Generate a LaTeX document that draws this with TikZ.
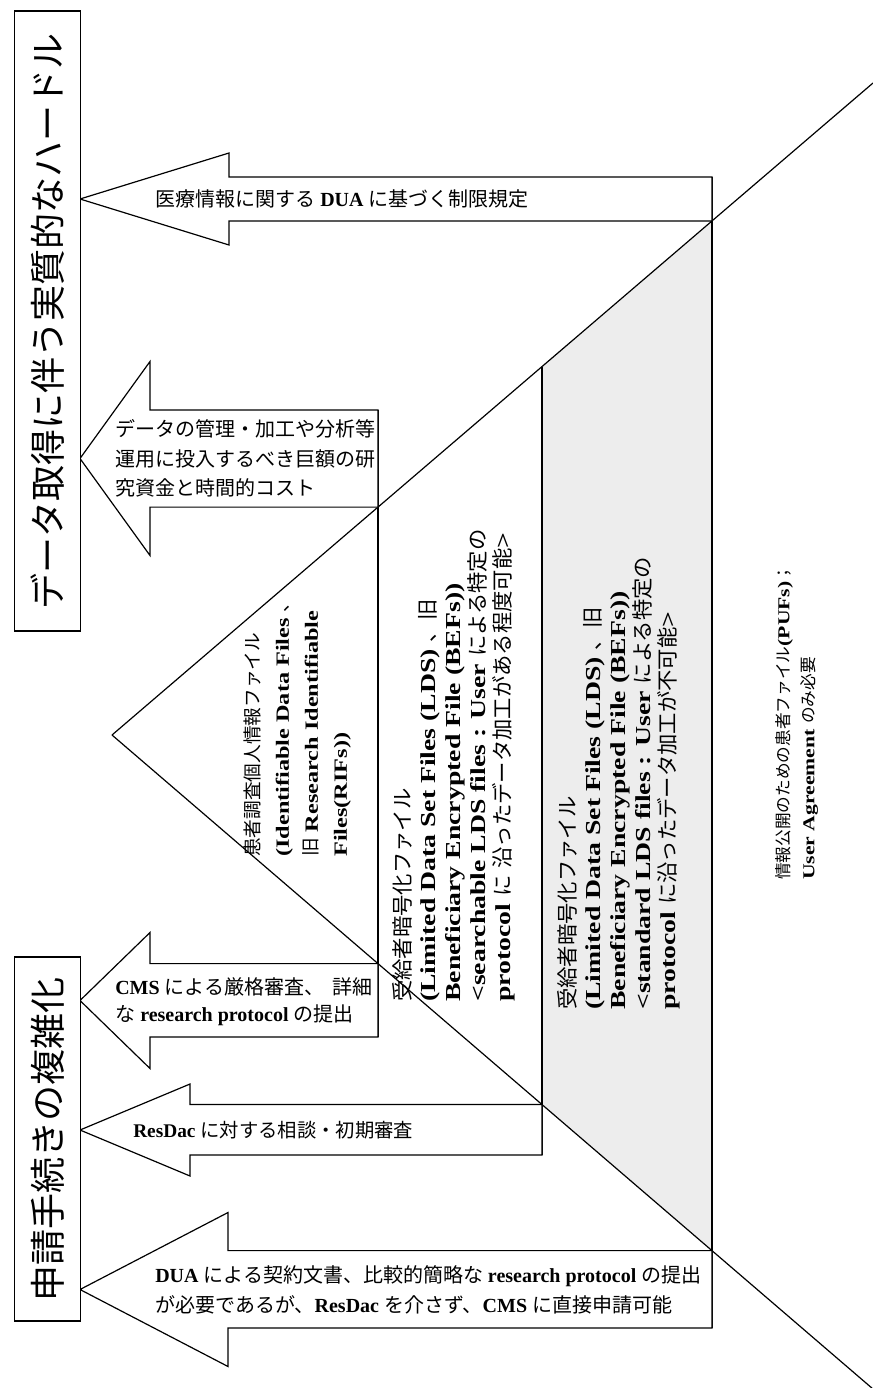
\documentclass[tikz,border=0pt]{standalone}
\usepackage{fontspec}
\setmainfont{Noto Sans CJK JP}
\newfontfamily\latfont{Liberation Serif}[UprightFont=*-Bold]
\newfontfamily\latwide{Liberation Serif}[UprightFont=*-Bold, FakeStretch=1.3]
\newcommand\LatA[1]{{\latfont #1}}
\newcommand\LatW[1]{{\latwide #1}}
\newcommand\BlockArrow[7]{%
  \draw[blockarrow] (#1,#2) -- (#3,#2-#4) -- (#3,#5) -- (#7,#5) -- (#7,#6) -- (#3,#6) -- (#3,#2+#4) -- cycle;}
\tikzset{
  outline/.style={draw=black, line width=0.9pt},
  blockarrow/.style={outline, fill=white, line join=miter},
  stdshade/.style={fill=black!7},
  titlebox/.style={outline, fill=white, rotate=90, inner sep=0pt, font=\fontsize{27pt}{32pt}\selectfont},
  arrowtext/.style={align=left, inner sep=0pt, anchor=west, font=\fontsize{15pt}{22pt}\selectfont},
  leveltext/.style={align=left, inner sep=0pt, rotate=90, anchor=north west}
}
\begin{document}
\begin{tikzpicture}[x=0.75pt,y=-0.75pt]
\useasboundingbox (0,0) rectangle (873,1388);
\fill[white] (0,0) rectangle (873,1388);

% pyramid geometry
\coordinate (apex) at (112,735);
\coordinate (upperEnd) at (873,83);
\coordinate (lowerEnd) at (873,1389);
\coordinate (u378) at (378,507.1);
\coordinate (u542) at (542,366.6);
\coordinate (u712) at (712,220.9);
\coordinate (l378) at (378,963.6);
\coordinate (l542) at (542,1104.5);
\coordinate (l712) at (712,1250.6);
\coordinate (v1top) at (378,410);
\coordinate (v1bot) at (378,1037);
\coordinate (v2bot) at (542,1155);
\coordinate (v3top) at (712,177);
\coordinate (v3bot) at (712,1328);

\fill[stdshade] (u542) -- (u712) -- (l712) -- (l542) -- cycle;
\draw[outline] (apex) -- (upperEnd);
\draw[outline] (apex) -- (lowerEnd);
\draw[outline] (v1top) -- (v1bot);
\draw[outline] (u542) -- (v2bot);
\draw[outline] (v3top) -- (v3bot);

% block arrows: tip x, tip y, head back x, head half height, shaft top, shaft bottom, right end
\BlockArrow{80}{199}{229}{46}{177}{220.9}{712}
\BlockArrow{80}{458.5}{150}{97}{410}{507.1}{378}
\BlockArrow{80}{1000.5}{150}{68}{963.6}{1037}{378}
\BlockArrow{80}{1130}{190}{46}{1104.5}{1155}{542}
\BlockArrow{80}{1289.5}{228}{77}{1250.6}{1328}{712}

% title boxes
\node[titlebox, minimum width=465pt, minimum height=49pt] (title1) at (47.5,321) {データ取得に伴う実質的なハードル};
\node[titlebox, minimum width=273pt, minimum height=49pt] (title2) at (47.5,1139) {申請手続きの複雑化};

% arrow texts
\node[arrowtext] (t1) at (155,199) {医療情報に関する\LatA{ DUA }に基づく制限規定};
\node[arrowtext] (t2) at (115,458.5) {データの管理・加工や分析等\\運用に投入するべき巨額の研\\究資金と時間的コスト};
\node[arrowtext, font=\fontsize{15pt}{20pt}\selectfont] (t3) at (115,1002) {\LatA{CMS }による厳格審査、\hspace{0.4em}詳細\\な\LatA{ research protocol }の提出};
\node[arrowtext, font=\fontsize{14.5pt}{20pt}\selectfont] (t4) at (133,1130) {\LatA{ResDac }に対する相談・初期審査};
\node[arrowtext, font=\fontsize{15pt}{22.5pt}\selectfont] (t5) at (155,1290) {\LatA{DUA }による契約文書、比較的簡略な\LatA{ research protocol }の提出\\が必要であるが、\LatA{ResDac }を介さず、\LatA{CMS }に直接申請可能};

% level texts (rotated)
\node[leveltext, font=\fontsize{14pt}{21.75pt}\selectfont] (lv1) at (244,857) {患者調査個人情報ファイル\\\LatW{(Identifiable Data Files }、\\旧\LatW{ Research Identifiable}\\\LatW{Files(RIFs))}};
\node[leveltext, font=\fontsize{16pt}{18.75pt}\selectfont] (lv2) at (392,1002) {受給者暗号化ファイル\\\LatW{(Limited Data Set Files (LDS) }、旧\\\LatW{Beneficiary Encrypted File (BEFs))}\\\LatW{\textless searchable LDS files : User }による特定の\\\LatW{protocol }に\LatW{ }沿ったデータ加工がある程度可能\LatW{\textgreater}};
\node[leveltext, font=\fontsize{16pt}{18.75pt}\selectfont] (lv3) at (557,1010) {受給者暗号化ファイル\\\LatW{(Limited Data Set Files (LDS) }、旧\\\LatW{Beneficiary Encrypted File (BEFs))}\\\LatW{\textless standard LDS files : User }による特定の\\\LatW{protocol }に沿ったデータ加工が不可能\LatW{\textgreater}};
\node[leveltext, font=\fontsize{12.5pt}{18.75pt}\selectfont] (lv4) at (775,880) {情報公開のための患者ファイル\LatW{(PUFs)}；\\\LatW{User Agreement }のみ必要};
\end{tikzpicture}
\end{document}
